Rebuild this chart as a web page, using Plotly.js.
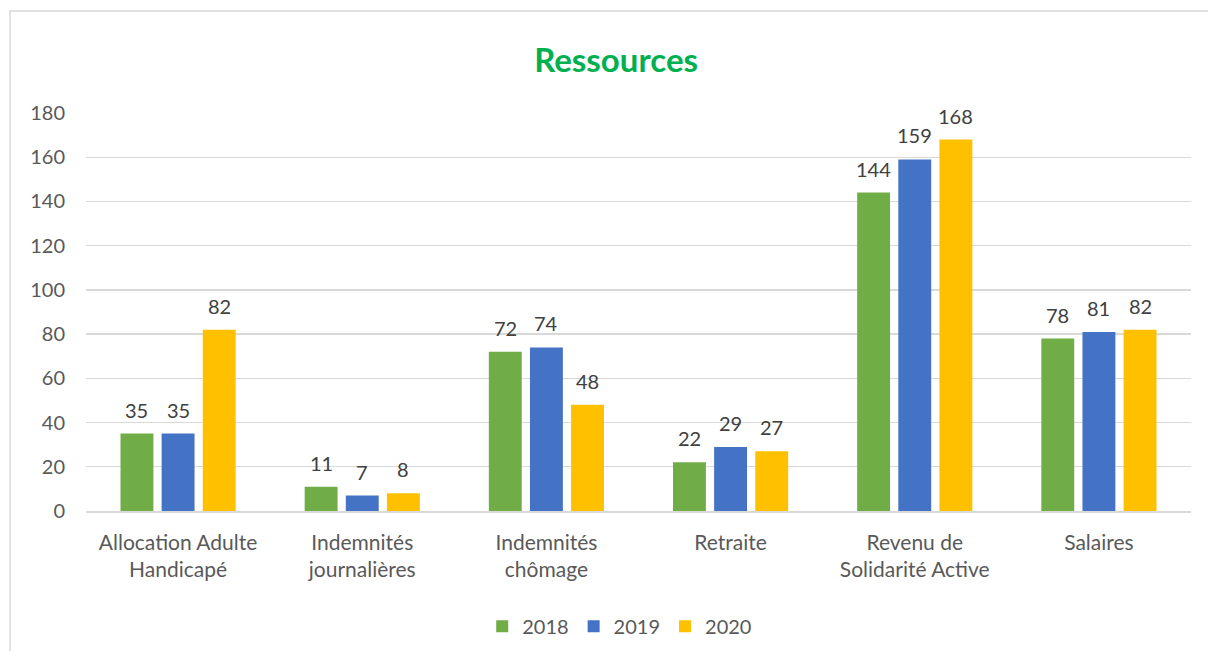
<!DOCTYPE html>
<html><head><meta charset="utf-8">
<script src="https://cdn.plot.ly/plotly-3.0.1.min.js"></script>
<style>html,body{margin:0;padding:0;background:#fff}#c{width:1208px;height:651px}</style>
</head><body><div id="c"></div>
<script>
const categories = ["Allocation Adulte<br>Handicapé","Indemnités<br>journalières","Indemnités<br>chômage","Retraite","Revenu de<br>Solidarité Active","Salaires"];
const series2018 = [35, 11, 72, 22, 144, 78];
const series2019 = [35, 7, 74, 29, 159, 81];
const series2020 = [82, 8, 48, 27, 168, 82];
const seriesNames = ["2018","2019","2020"];
const colors = ["#70AD47","#4472C4","#FFC000"];
const font = "Lato, 'Open Sans', sans-serif";
const all = [series2018, series2019, series2020];
const W=1208,H=651,L=86,R=17,T=113,B=140;
const pw=W-L-R, ph=H-T-B;
const slot = pw/categories.length*(1-0.33)/3;
const traces = all.map((v,i)=>({
  type:'bar', x:categories, y:v, name:seriesNames[i],
  marker:{color:colors[i]}, hoverinfo:'skip'
}));
const annotations = [];
all.forEach((v,i)=>v.forEach((val,j)=>annotations.push({
  x:categories[j], y:val, xref:'x', yref:'y', text:String(val), showarrow:false,
  xshift:(i-1)*slot, yanchor:'bottom', yshift:10,
  font:{family:font,size:20,color:'#404040'}
})));
const layout = {
  width:W,height:H,
  margin:{l:L,r:R,t:T,b:B,autoexpand:false},
  paper_bgcolor:'#fff',plot_bgcolor:'#fff',
  title:{text:'<b>Ressources</b>',font:{family:font,size:33,color:'#00B050'},x:0.51,xanchor:'center',y:0.907,yanchor:'middle'},
  barmode:'group',bargap:0.33,bargroupgap:0.2,
  showlegend:true,
  legend:{orientation:'h',x:0.483,xanchor:'center',yref:'container',y:0.038,yanchor:'middle',font:{family:font,size:20,color:'#595959'},itemwidth:30,traceorder:'normal'},
  xaxis:{automargin:false,showgrid:false,showline:true,linecolor:'#d9d9d9',linewidth:1.5,ticks:'',ticklabelstandoff:12,tickfont:{family:font,size:21,color:'#595959'},fixedrange:true},
  yaxis:{automargin:false,range:[0,180],dtick:20,showgrid:true,gridcolor:'#d9d9d9',gridwidth:1.3,zeroline:false,showline:false,ticks:'',ticklabelstandoff:20,tickfont:{family:font,size:20,color:'#595959'},fixedrange:true},
  annotations:annotations,
  shapes:[{type:'rect',xref:'paper',yref:'paper',x0:(10-L)/pw,x1:(W+20-L)/pw,y0:-(H+20-T-ph)/ph,y1:(T+ph-11)/ph,line:{color:'#d9d9d9',width:1.5},fillcolor:'rgba(0,0,0,0)',layer:'below'}]
};
Plotly.newPlot('c',traces,layout,{staticPlot:true,displayModeBar:false});
</script></body></html>
